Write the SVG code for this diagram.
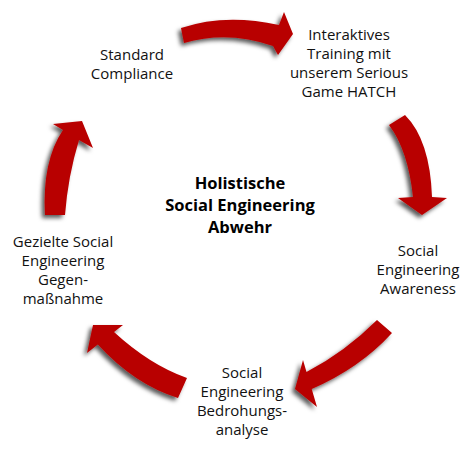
<svg xmlns="http://www.w3.org/2000/svg" width="470" height="450" viewBox="0 0 470 450">
<defs>
<filter id="sh" x="-30%" y="-30%" width="160%" height="160%">
<feDropShadow dx="-3" dy="3" stdDeviation="2" flood-color="#000" flood-opacity="0.65"/>
</filter>
<style>
.arrow{fill:#b80000;filter:url(#sh)}
.lbl{font-family:"Open Sans","Liberation Sans",sans-serif;font-size:15px;fill:#111;text-anchor:middle}
.ctr{font-family:"Open Sans","Liberation Sans",sans-serif;font-size:16.5px;font-weight:bold;fill:#000;text-anchor:middle}
</style>
</defs>
<rect width="470" height="450" fill="#fff"/>
<g id="connectors">
<path class="arrow" d="M181,28 Q225,13 279,25 L284,12 L293,34 L278,55 L273,46 Q228,30 184,43 Z"/>
<path class="arrow" d="M389,125 Q408,150 413,197 L398,198 L422,215 L447,198 L432,197 Q430,140 405,115 Z"/>
<path class="arrow" d="M377,320 Q345,352 306.5,372 L303,360 L295,389 L317,407 L311.7,389 Q360,368 392,333 Z"/>
<path class="arrow" d="M187,378 Q150,365 114,332 L123,325 L93,325 L87,353 L97.8,344.6 Q135,385 178,398 Z"/>
<path class="arrow" d="M45,215 Q42,161 63,130 L53,124 L82,121 L93,148 L79,140 Q68,176 65,215 Z"/>
</g>
<g id="center">
<text class="ctr" x="240" y="189">Holistische</text>
<text class="ctr" x="240" y="211">Social Engineering</text>
<text class="ctr" x="240" y="233">Abwehr</text>
</g>
<g id="standard">
<text class="lbl" x="132" y="60">Standard</text>
<text class="lbl" x="132" y="79">Compliance</text>
</g>
<g id="training">
<text class="lbl" x="349" y="40">Interaktives</text>
<text class="lbl" x="349" y="59">Training mit</text>
<text class="lbl" x="349" y="78">unserem Serious</text>
<text class="lbl" x="349" y="97">Game HATCH</text>
</g>
<g id="awareness">
<text class="lbl" x="418" y="256">Social</text>
<text class="lbl" x="418" y="275">Engineering</text>
<text class="lbl" x="418" y="294">Awareness</text>
</g>
<g id="analyse">
<text class="lbl" x="242" y="378">Social</text>
<text class="lbl" x="242" y="397">Engineering</text>
<text class="lbl" x="242" y="416">Bedrohungs-</text>
<text class="lbl" x="242" y="435">analyse</text>
</g>
<g id="gegenmassnahme">
<text class="lbl" x="63" y="247">Gezielte Social</text>
<text class="lbl" x="63" y="266">Engineering</text>
<text class="lbl" x="63" y="285">Gegen-</text>
<text class="lbl" x="63" y="304">maßnahme</text>
</g>
</svg>
